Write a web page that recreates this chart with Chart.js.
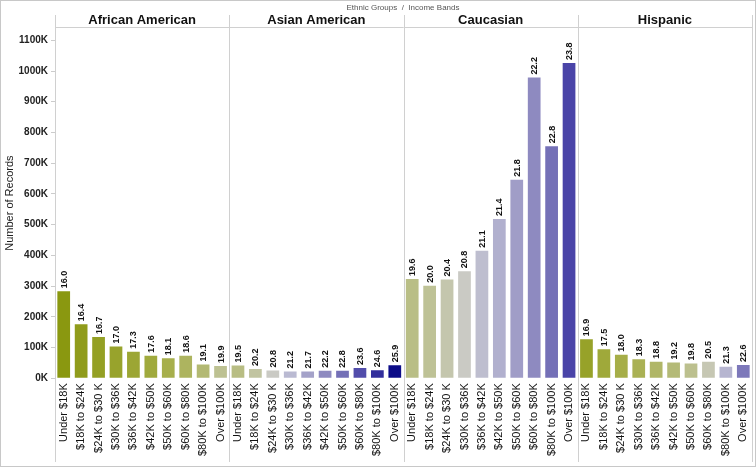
<!DOCTYPE html>
<html>
<head>
<meta charset="utf-8">
<script src="https://cdn.jsdelivr.net/npm/chart.js@4.4.1/dist/chart.umd.min.js"></script>
<style>
  body { margin: 0; background: #fff; }
</style>
</head>
<body>
<canvas id="chart" width="756" height="467"></canvas>
<script>
const groups = ['African American', 'Asian American', 'Caucasian', 'Hispanic'];
const bands = ['Under $18K', '$18K to $24K', '$24K to $30 K', '$30K to $36K', '$36K to $42K',
    '$42K to $50K', '$50K to $60K', '$60K to $80K', '$80K to $100K', 'Over $100K'];

// number of records per band, one array per group
const africanAmerican = [283000, 176000, 134000, 103000, 86000, 73000, 65000, 73000, 45000, 40000];
const asianAmerican = [41000, 30000, 25000, 22000, 22000, 24000, 24000, 33000, 26000, 42000];
const caucasian = [323000, 301000, 321000, 348000, 415000, 518000, 646000, 979000, 755000, 1026000];
const hispanic = [127000, 94000, 76000, 62000, 54000, 51000, 48000, 54000, 37000, 43000];

// value printed above each bar (also drives the colour)
const aaLabels = [16.0, 16.4, 16.7, 17.0, 17.3, 17.6, 18.1, 18.6, 19.1, 19.9];
const asLabels = [19.5, 20.2, 20.8, 21.2, 21.7, 22.2, 22.8, 23.6, 24.6, 25.9];
const caLabels = [19.6, 20.0, 20.4, 20.8, 21.1, 21.4, 21.8, 22.2, 22.8, 23.8];
const hiLabels = [16.9, 17.5, 18.0, 18.3, 18.8, 19.2, 19.8, 20.5, 21.3, 22.6];

const yTicks = [0, 100000, 200000, 300000, 400000, 500000, 600000, 700000, 800000, 900000, 1000000, 1100000];

const values = [].concat(africanAmerican, asianAmerican, caucasian, hispanic);
const barLabels = [].concat(aaLabels, asLabels, caLabels, hiLabels);
const labels = [].concat(bands, bands, bands, bands);

// colour ramp olive -> grey -> navy
const stops = [
    [16.0, [138, 152, 16]],
    [18.0, [166, 174, 72]],
    [20.0, [190, 194, 150]],
    [20.8, [202, 202, 196]],
    [21.2, [186, 186, 210]],
    [22.2, [142, 138, 192]],
    [23.8, [74, 68, 168]],
    [25.9, [12, 12, 136]]
];
function colorFor(v) {
    for (let i = 1; i < stops.length; i++) {
        if (v <= stops[i][0]) {
            const a = stops[i - 1], b = stops[i];
            const t = Math.max(0, (v - a[0]) / (b[0] - a[0]));
            const c = a[1].map((x, k) => Math.round(x + (b[1][k] - x) * t));
            return 'rgb(' + c.join(',') + ')';
        }
    }
    return 'rgb(12,12,136)';
}

const FONT = 'Arial, "Liberation Sans", sans-serif';

const panels = {
    id: 'panels',
    afterDraw(chart) {
        const ctx = chart.ctx;
        const meta = chart.getDatasetMeta(0);
        const left = chart.chartArea.left, right = chart.chartArea.right;
        const step = (right - left) / labels.length;
        ctx.save();
        // outer frame
        ctx.strokeStyle = '#c8c8c8';
        ctx.lineWidth = 1;
        ctx.strokeRect(0.5, 0.5, 755, 466);
        // title
        ctx.fillStyle = '#555';
        ctx.font = '8px ' + FONT;
        ctx.textAlign = 'center';
        ctx.textBaseline = 'middle';
        ctx.fillText('Ethnic Groups  /  Income Bands', 403, 8);
        // header line
        ctx.strokeStyle = '#d0d0d0';
        ctx.beginPath();
        ctx.moveTo(left, 27.5);
        ctx.lineTo(right, 27.5);
        ctx.stroke();
        // separators
        for (let g = 0; g <= groups.length; g++) {
            const px = Math.round(left + g * 10 * step) + 0.5;
            ctx.beginPath();
            ctx.moveTo(px, 15);
            ctx.lineTo(px, 462);
            ctx.stroke();
        }
        // group names
        ctx.fillStyle = '#111';
        ctx.font = 'bold 13px ' + FONT;
        groups.forEach((g, i) => {
            ctx.fillText(g, left + (i * 10 + 5) * step, 20);
        });
        // bar value labels
        ctx.font = 'bold 9px ' + FONT;
        ctx.textAlign = 'left';
        meta.data.forEach((bar, i) => {
            ctx.save();
            ctx.translate(bar.x, bar.y - 3);
            ctx.rotate(-Math.PI / 2);
            ctx.fillText(barLabels[i].toFixed(1), 0, 0.5);
            ctx.restore();
        });
        ctx.restore();
    }
};

new Chart(document.getElementById('chart'), {
    type: 'bar',
    data: {
        labels: labels,
        datasets: [{
            data: values,
            backgroundColor: barLabels.map(colorFor),
            barPercentage: 0.73,
            categoryPercentage: 1
        }]
    },
    options: {
        responsive: false,
        animation: false,
        layout: { padding: { top: 28, right: 4, left: 0, bottom: 6 } },
        plugins: {
            legend: { display: false },
            tooltip: { enabled: false }
        },
        scales: {
            x: {
                afterFit(scale) {
                    scale.paddingLeft = 0;
                    scale.paddingRight = 0;
                },
                grid: { display: false, drawTicks: false },
                border: { display: false },
                ticks: {
                    autoSkip: false,
                    maxRotation: 90,
                    minRotation: 90,
                    padding: 5,
                    color: '#111',
                    font: { family: FONT, size: 11 }
                }
            },
            y: {
                min: 0,
                max: 1140000,
                afterBuildTicks(scale) {
                    scale.ticks = yTicks.map(v => ({ value: v }));
                },
                afterFit(scale) {
                    scale.width = 55;
                },
                grid: { display: true, drawOnChartArea: false, tickLength: 4, color: '#ccc' },
                border: { display: false },
                ticks: {
                    padding: 3,
                    color: '#222',
                    font: { family: FONT, size: 10, weight: 'bold' },
                    callback: v => (v / 1000) + 'K'
                },
                title: {
                    display: true,
                    text: 'Number of Records',
                    color: '#222',
                    font: { family: FONT, size: 11 },
                    padding: 3
                }
            }
        }
    },
    plugins: [panels]
});
</script>
</body>
</html>
